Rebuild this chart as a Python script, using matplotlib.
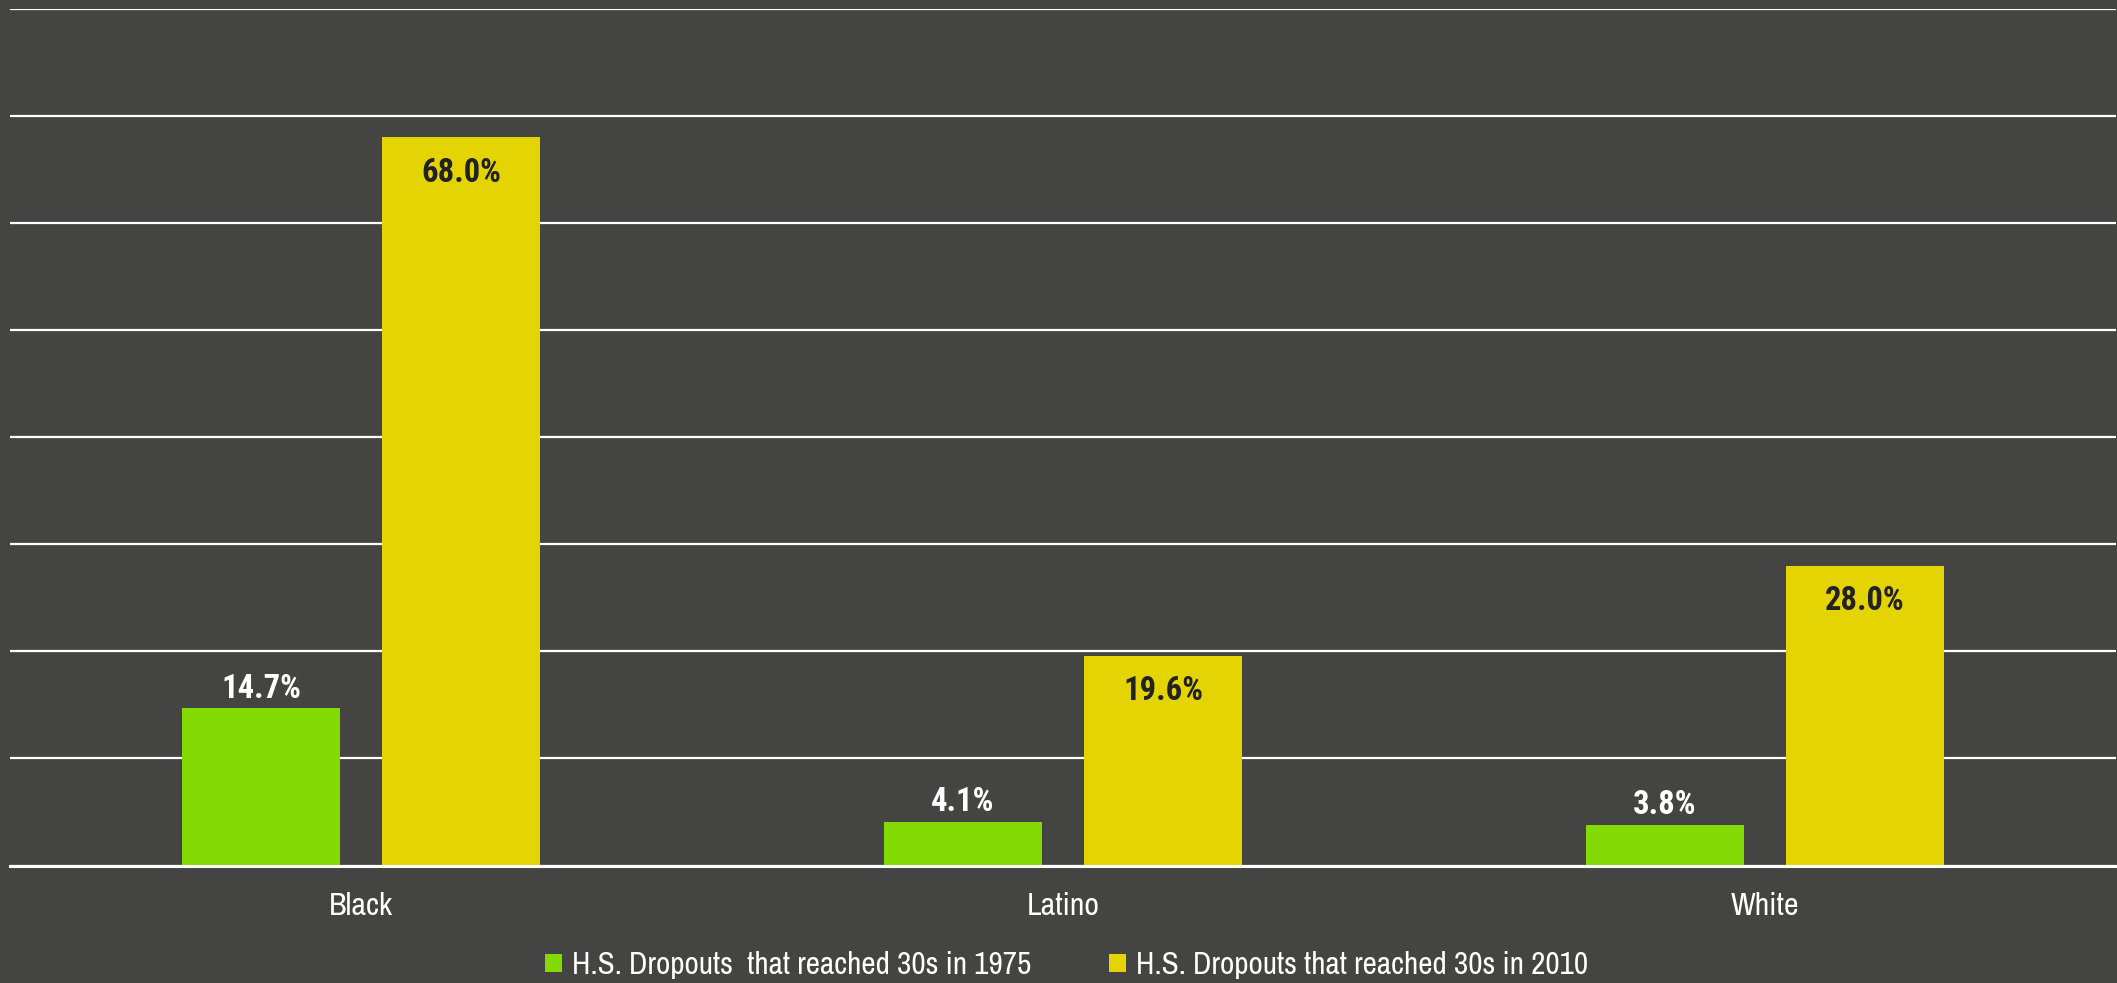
import matplotlib
matplotlib.use("Agg")
import matplotlib.pyplot as plt
from matplotlib import font_manager as fm
from matplotlib.patches import Patch
import numpy as np

categories = ["Black", "Latino", "White"]
series_names = ["H.S. Dropouts  that reached 30s in 1975", "H.S. Dropouts that reached 30s in 2010"]
values_1975 = [14.7, 4.1, 3.8]
values_2010 = [68.0, 19.6, 28.0]

BG = "#444542"
GREEN = "#84DA04"
YELLOW = "#E4D404"


def _w(e):
    w = e.weight
    if isinstance(w, str):
        w = fm.weight_dict.get(w, 400)
    return w


entries = fm.fontManager.ttflist
names = {f.name for f in entries}
bold_names = {f.name for f in entries if _w(f) >= 700 and f.style == "normal"}

FAM = ["DejaVu Sans"]
for cand in ["Archivo Narrow", "Roboto Condensed", "Liberation Sans Narrow", "Barlow Semi Condensed"]:
    if cand in names:
        FAM = [cand, "DejaVu Sans"]
        break
BFAM = ["DejaVu Sans"]
for cand in ["Archivo Narrow", "Roboto Condensed", "Liberation Sans Narrow", "Barlow Semi Condensed",
             "Asap Condensed", "Barlow Condensed"]:
    if cand in bold_names:
        BFAM = [cand, "DejaVu Sans"]
        break

plt.rcParams["font.family"] = FAM

W, H = 2117, 983
fig = plt.figure(figsize=(W / 100, H / 100), dpi=100, facecolor=BG)
ax = fig.add_axes([10 / W, 1 - 865.5 / H, 2106 / W, (865.5 - 9) / H])
ax.set_facecolor(BG)

x = np.arange(len(categories))
bw = 0.2245
off = 0.1425
ax.bar(x - off, values_1975, bw, color=GREEN, zorder=3, label=series_names[0])
ax.bar(x + off, values_2010, bw, color=YELLOW, zorder=3, label=series_names[1])

ax.set_xlim(-0.5, 2.5)
ax.set_ylim(0, 80)
ax.set_yticks(np.arange(0, 81, 10))
ax.yaxis.grid(True, color="white", linewidth=1.6, zorder=0)
ax.set_axisbelow(True)
ax.tick_params(axis="y", left=False, labelleft=False)
ax.set_xticks(x)
ax.set_xticklabels(categories, fontsize=23, color="white")
ax.tick_params(axis="x", length=0, pad=19)
for s in ax.spines.values():
    s.set_visible(False)
ax.axhline(0, color="white", linewidth=2.2, zorder=4, clip_on=False)

for xi, v in zip(x - off, values_1975):
    ax.annotate(f"{v:.1f}%", (xi, v), xytext=(0, 7.5), textcoords="offset points",
                ha="center", va="baseline", fontsize=23.5, fontweight="bold", family=BFAM,
                color="white", zorder=5)
for xi, v in zip(x + off, values_2010):
    ax.annotate(f"{v:.1f}%", (xi, v), xytext=(0, -14), textcoords="offset points",
                ha="center", va="top", fontsize=23.5, fontweight="bold", family=BFAM,
                color="#222222", zorder=5)

handles = [Patch(facecolor=GREEN), Patch(facecolor=YELLOW)]
leg = fig.legend(handles, series_names, loc="center", bbox_to_anchor=(1066.5 / W, 1 - 965 / H),
                 ncol=2, frameon=False, fontsize=22.5, handlelength=0.55, handleheight=0.55,
                 handletextpad=0.3, columnspacing=2.5, borderpad=0, borderaxespad=0)
for t in leg.get_texts():
    t.set_color("white")

fig.savefig("out.png", dpi=100, facecolor=BG)
